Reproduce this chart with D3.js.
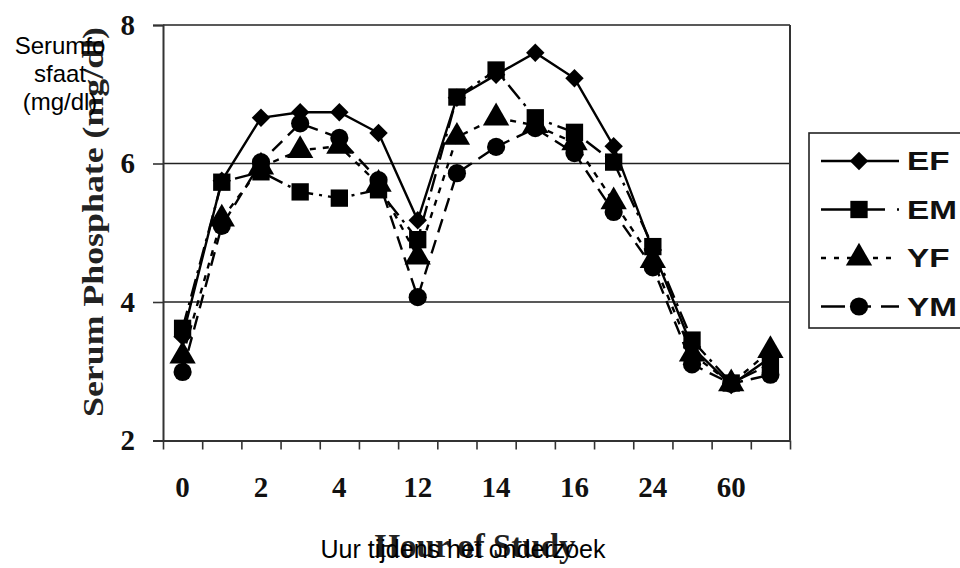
<!DOCTYPE html>
<html>
<head>
<meta charset="utf-8">
<script src="https://cdn.jsdelivr.net/npm/d3@7"></script>
<style>
  body { margin: 0; background: #fff; }
  svg { display: block; }
</style>
</head>
<body>
<svg width="960" height="568"></svg>
<script>
// one value per hour slot, 16 slots, every other one labelled
var hourLabels = ['0', '', '2', '', '4', '', '12', '', '14', '', '16', '', '24', '', '60', ''];
var seriesNames = ['EF', 'EM', 'YF', 'YM'];
var EF = [3.5, 5.75, 6.66, 6.74, 6.74, 6.44, 5.18, 6.95, 7.28, 7.6, 7.23, 6.25, 4.75, 3.35, 2.8, 3.2];
var EM = [3.62, 5.73, 5.88, 5.59, 5.5, 5.62, 4.9, 6.96, 7.35, 6.66, 6.45, 6.02, 4.8, 3.45, 2.83, 3.1];
var YF = [3.22, 5.2, 5.95, 6.19, 6.25, 5.7, 4.65, 6.38, 6.66, 6.55, 6.3, 5.45, 4.6, 3.25, 2.82, 3.3];
var YM = [2.99, 5.1, 6.02, 6.58, 6.37, 5.76, 4.07, 5.86, 6.24, 6.51, 6.15, 5.3, 4.5, 3.1, 2.82, 2.95];
var yTicks = [2, 4, 6, 8];

var serif = '"Liberation Serif", "Times New Roman", serif';
var sans = '"Liberation Sans", Arial, sans-serif';

var svg = d3.select('svg');

var plotLeft = 163, plotRight = 790, plotTop = 25, plotBottom = 440.5;

var xBand = d3.scaleBand()
  .domain(d3.range(hourLabels.length))
  .range([plotLeft, plotRight]);

var xEdge = d3.scaleLinear()
  .domain([0, hourLabels.length])
  .range([plotLeft, plotRight]);

var yScale = d3.scaleLinear()
  .domain([2, 8])
  .range([plotBottom, plotTop]);

// gridlines
svg.append('g')
  .selectAll('line')
  .data(yTicks.filter(function(d) { return d > 2; }))
  .enter()
  .append('line')
    .attr('x1', plotLeft)
    .attr('x2', plotRight)
    .attr('y1', function(d) { return yScale(d); })
    .attr('y2', function(d) { return yScale(d); })
    .attr('stroke', '#222')
    .attr('stroke-width', 1.6);

// right border
svg.append('line')
  .attr('x1', plotRight).attr('x2', plotRight)
  .attr('y1', yScale(8)).attr('y2', yScale(2))
  .attr('stroke', '#333')
  .attr('stroke-width', 2);

// y axis
var yAxis = svg.append('g')
  .attr('transform', 'translate(' + plotLeft + ',0)')
  .call(d3.axisLeft(yScale).tickValues(yTicks).tickSize(10).tickPadding(18).tickFormat(d3.format('d')));
yAxis.select('.domain').attr('stroke', '#333').attr('stroke-width', 2);
yAxis.selectAll('.tick line').attr('stroke', '#333').attr('stroke-width', 1.6);
yAxis.selectAll('text')
  .attr('font-family', serif)
  .attr('font-weight', 'bold')
  .attr('font-size', 29)
  .attr('fill', '#111');

// x axis ticks on slot edges
var xTickAxis = svg.append('g')
  .attr('transform', 'translate(0,' + plotBottom + ')')
  .call(d3.axisBottom(xEdge).tickValues(d3.range(hourLabels.length + 1)).tickSize(9).tickSizeOuter(0).tickFormat(''));
xTickAxis.select('.domain').attr('stroke', '#333').attr('stroke-width', 2);
xTickAxis.selectAll('.tick line').attr('stroke', '#333').attr('stroke-width', 1.6);

// x axis labels at slot centers
var xLabelAxis = svg.append('g')
  .attr('transform', 'translate(0,' + plotBottom + ')')
  .call(d3.axisBottom(xBand).tickSize(0).tickPadding(36).tickFormat(function(i) { return hourLabels[i]; }));
xLabelAxis.select('.domain').remove();
xLabelAxis.selectAll('text')
  .attr('font-family', serif)
  .attr('font-weight', 'bold')
  .attr('font-size', 29)
  .attr('fill', '#111');

// series
var seriesData = [EF, EM, YF, YM];
var dashes = ['none', '18,6,3,6', '6,7', '14,8'];
var legendDashes = [null, '64,12,2,10', '5,8', '24,10,16,10,18'];
var symbols = [d3.symbolSquare, d3.symbolSquare, d3.symbolTriangle, d3.symbolCircle];
var symbolSizes = [170, 300, 300, 260];
var symbolRotate = [45, 0, 0, 0];

var line = d3.line()
  .x(function(d, i) { return xBand(i) + xBand.bandwidth() / 2; })
  .y(function(d) { return yScale(d); });

seriesData.forEach(function(values, s) {
  svg.append('path')
    .datum(values)
    .attr('d', line)
    .attr('fill', 'none')
    .attr('stroke', '#000')
    .attr('stroke-width', 2.4)
    .attr('stroke-dasharray', dashes[s]);

  svg.append('g')
    .selectAll('path')
    .data(values)
    .enter()
    .append('path')
      .attr('d', d3.symbol().type(symbols[s]).size(symbolSizes[s]))
      .attr('transform', function(d, i) {
        return 'translate(' + (xBand(i) + xBand.bandwidth() / 2) + ',' + yScale(d) + ') rotate(' + symbolRotate[s] + ')';
      })
      .attr('fill', '#000');
});

// legend
var legend = svg.append('g');
legend.append('rect')
  .attr('x', 809).attr('y', 133)
  .attr('width', 200).attr('height', 195)
  .attr('fill', '#fff')
  .attr('stroke', '#222')
  .attr('stroke-width', 1.6);

seriesNames.forEach(function(name, s) {
  var ly = 161 + s * 48.5;
  legend.append('line')
    .attr('x1', 821).attr('x2', 899)
    .attr('y1', ly).attr('y2', ly)
    .attr('stroke', '#000')
    .attr('stroke-width', 2.4)
    .attr('stroke-dasharray', legendDashes[s]);
  legend.append('path')
    .attr('d', d3.symbol().type(symbols[s]).size(symbolSizes[s]))
    .attr('transform', 'translate(859,' + ly + ') rotate(' + symbolRotate[s] + ')')
    .attr('fill', '#000');
  legend.append('text')
    .attr('transform', 'translate(907,' + (ly + 9) + ') scale(1.28,1)')
    .attr('font-family', sans)
    .attr('font-weight', 'bold')
    .attr('font-size', 26)
    .attr('fill', '#111')
    .text(name);
});

// original axis titles
svg.append('text')
  .attr('transform', 'translate(103,222) rotate(-90)')
  .attr('text-anchor', 'middle')
  .attr('font-family', serif)
  .attr('font-weight', 'bold')
  .attr('font-size', 30)
  .attr('fill', '#222')
  .attr('textLength', 390)
  .attr('lengthAdjust', 'spacingAndGlyphs')
  .text('Serum Phosphate (mg/dl)');

svg.append('text')
  .attr('x', 475)
  .attr('y', 557)
  .attr('text-anchor', 'middle')
  .attr('font-family', serif)
  .attr('font-weight', 'bold')
  .attr('font-size', 33)
  .attr('fill', '#222')
  .text('Hour of Study');

// translated overlay titles
var yTitle = svg.append('text')
  .attr('text-anchor', 'middle')
  .attr('font-family', sans)
  .attr('font-size', 24)
  .attr('fill', '#000');
['Serumfo', 'sfaat', '(mg/dl)'].forEach(function(t, i) {
  yTitle.append('tspan')
    .attr('x', 60)
    .attr('y', 54 + i * 28)
    .text(t);
});

svg.append('text')
  .attr('x', 463)
  .attr('y', 558)
  .attr('text-anchor', 'middle')
  .attr('font-family', sans)
  .attr('font-size', 25)
  .attr('fill', '#000')
  .text('Uur tijdens het onderzoek');
</script>
</body>
</html>
